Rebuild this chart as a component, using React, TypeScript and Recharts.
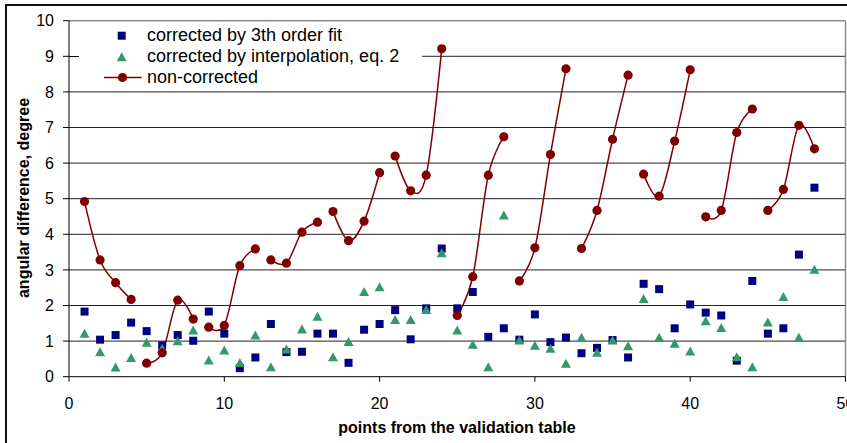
import React from "react"
import { ComposedChart, Line, Scatter, XAxis, YAxis, ReferenceLine } from "recharts"

// point numbers from the validation table
const pointNo = [
  1, 2, 3, 4, 5, 6, 7, 8, 9, 10, 11, 12, 13, 14, 15, 16, 17, 18, 19, 20, 21, 22, 23, 24,
  25, 26, 27, 28, 29, 30, 31, 32, 33, 34, 35, 36, 37, 38, 39, 40, 41, 42, 43, 44, 45, 46, 47, 48,
]

// corrected by 3th order fit
const fitValues = [
  1.83, 1.04, 1.17, 1.52, 1.28, 0.88, 1.17, 1.01, 1.83, 1.21, 0.24, 0.54,
  1.48, 0.69, 0.7, 1.21, 1.21, 0.39, 1.32, 1.48, 1.87, 1.05, 1.92, 3.6,
  1.92, 2.38, 1.12, 1.36, 1.04, 1.75, 0.97, 1.1, 0.66, 0.81, 1.03, 0.54,
  2.61, 2.46, 1.36, 2.03, 1.8, 1.72, 0.45, 2.69, 1.21, 1.36, 3.43, 5.31,
]

// corrected by interpolation, eq. 2
const interpValues = [
  1.22, 0.7, 0.27, 0.54, 0.97, 0.8, 1.01, 1.31, 0.47, 0.75, 0.4, 1.17,
  0.28, 0.78, 1.34, 1.7, 0.56, 0.99, 2.39, 2.53, 1.61, 1.61, 1.89, 3.48,
  1.31, 0.91, 0.28, 4.54, 1.03, 0.88, 0.8, 0.38, 1.11, 0.69, 1.03, 0.87,
  2.2, 1.11, 0.94, 0.72, 1.57, 1.38, 0.56, 0.28, 1.54, 2.25, 1.11, 3.02,
]

// non-corrected
const rawValues = [
  4.92, 3.28, 2.64, 2.17, 0.38, 0.67, 2.15, 1.62, 1.39, 1.44, 3.12, 3.59,
  3.28, 3.19, 4.06, 4.34, 4.64, 3.82, 4.37, 5.73, 6.2, 5.22, 5.66, 9.21,
  1.72, 2.81, 5.66, 6.74, 2.69, 3.62, 6.24, 8.65, 3.6, 4.67, 6.67, 8.47,
  5.69, 5.07, 6.62, 8.62, 4.49, 4.67, 6.86, 7.52, 4.67, 5.26, 7.06, 6.4,
]

// the non-corrected line is broken after these points
const segmentEnds = [4, 8, 12, 16, 20, 24, 28, 32, 36, 40, 44]

const xTicks = [0, 10, 20, 30, 40, 50]
const yTicks = [0, 1, 2, 3, 4, 5, 6, 7, 8, 9, 10]
const gridValues = [1, 2, 3, 4, 5, 6, 7, 8, 9]

const legendItems = [
  { name: "corrected by 3th order fit", kind: "fit" },
  { name: "corrected by interpolation, eq. 2", kind: "interp" },
  { name: "non-corrected", kind: "raw" },
]

const colors = {
  fit: "#000080",
  interp: "#339966",
  raw: "#800000",
}

const fitData = pointNo.map((x, i) => ({ x, v: fitValues[i] }))
const interpData = pointNo.map((x, i) => ({ x, v: interpValues[i] }))
const rawData: { x: number; v: number | null }[] = []
pointNo.forEach((x, i) => {
  rawData.push({ x, v: rawValues[i] })
  if (segmentEnds.includes(x)) rawData.push({ x: x + 0.5, v: null })
})

// smoothed line, like the spreadsheet's "smoothed line" option (cardinal spline)
const smoothCurve = (context: any) => {
  const k = 1 / 6
  let x0 = NaN, y0 = NaN, x1 = NaN, y1 = NaN, x2 = NaN, y2 = NaN
  let pt = 0
  let line = NaN
  const seg = (x: number, y: number) =>
    context.bezierCurveTo(x1 + k * (x2 - x0), y1 + k * (y2 - y0), x2 + k * (x1 - x), y2 + k * (y1 - y), x2, y2)
  return {
    areaStart() { line = 0 },
    areaEnd() { line = NaN },
    lineStart() { x0 = x1 = x2 = y0 = y1 = y2 = NaN; pt = 0 },
    lineEnd() {
      if (pt === 2) context.lineTo(x2, y2)
      else if (pt === 3) seg(x1, y1)
      if (line || (line !== 0 && pt === 1)) context.closePath()
      line = 1 - line
    },
    point(x: number, y: number) {
      switch (pt) {
        case 0: pt = 1; if (line) context.lineTo(x, y); else context.moveTo(x, y); break
        case 1: pt = 2; x1 = x; y1 = y; break
        case 2: pt = 3; seg(x, y); break
        default: seg(x, y)
      }
      x0 = x1; x1 = x2; x2 = x
      y0 = y1; y1 = y2; y2 = y
    },
  }
}

const Square = (props: any) => {
  const { cx, cy } = props
  if (cx == null || cy == null) return null
  return <rect x={cx - 4} y={cy - 4} width={8} height={8} fill={colors.fit} />
}

const Triangle = (props: any) => {
  const { cx, cy } = props
  if (cx == null || cy == null) return null
  return <polygon points={`${cx},${cy - 4.5} ${cx - 5},${cy + 4.5} ${cx + 5},${cy + 4.5}`} fill={colors.interp} />
}

const Dot = (props: any) => {
  const { cx, cy, index } = props
  if (cx == null || cy == null) return <g key={index} />
  return <circle key={index} cx={cx} cy={cy} r={4.6} fill={colors.raw} />
}

const font = "'Liberation Sans', Arial, sans-serif"
const tickStyle = { fill: "#000", fontSize: 16, fontFamily: font }

export default function App() {
  return (
    <div style={{ position: "absolute", left: 0, top: 0, width: 847, height: 443, overflow: "hidden", background: "#fff", fontFamily: font }}>
      <div style={{ position: "absolute", left: 5, top: 4, width: 900, height: 500, border: "2px solid #111" }} />
      <div style={{ position: "absolute", left: 0, top: 0 }}>
        <ComposedChart width={847} height={443} margin={{ top: 20.7, right: 1.5, bottom: 0, left: 9 }}>
          <XAxis
            dataKey="x"
            type="number"
            domain={[0, 50]}
            ticks={xTicks}
            interval={0}
            allowDataOverflow
            height={66.3}
            tickSize={5}
            tickMargin={16}
            tick={tickStyle}
            axisLine={{ stroke: "#000" }}
            tickLine={{ stroke: "#000" }}
          />
          <YAxis
            type="number"
            domain={[0, 10]}
            ticks={yTicks}
            interval={0}
            width={60}
            tickSize={6}
            tickMargin={9}
            tick={tickStyle}
            axisLine={{ stroke: "#000" }}
            tickLine={{ stroke: "#000" }}
          />
          {gridValues.map((v) => (
            <ReferenceLine key={v} y={v} stroke="#222" strokeWidth={1} />
          ))}
          <ReferenceLine y={10} stroke="#8c8c8c" strokeWidth={1.5} />
          <ReferenceLine x={50} stroke="#8c8c8c" strokeWidth={1.5} />
          <Scatter data={fitData} dataKey="v" shape={Square} isAnimationActive={false} />
          <Scatter data={interpData} dataKey="v" shape={Triangle} isAnimationActive={false} />
          <Line
            data={rawData}
            dataKey="v"
            type={smoothCurve as any}
            stroke={colors.raw}
            strokeWidth={1.5}
            dot={Dot}
            activeDot={false}
            connectNulls={false}
            isAnimationActive={false}
          />
        </ComposedChart>
      </div>
      <svg width={847} height={443} style={{ position: "absolute", left: 0, top: 0, pointerEvents: "none" }}>
        <text
          x={23}
          y={198}
          transform="rotate(-90 23 198)"
          textAnchor="middle"
          dominantBaseline="central"
          fontSize={16}
          fontWeight="bold"
          fontFamily={font}
        >
          angular difference, degree
        </text>
        <text x={457} y={433} textAnchor="middle" fontSize={16} fontWeight="bold" fontFamily={font}>
          points from the validation table
        </text>
      </svg>
      <div
        style={{
          position: "absolute",
          left: 70,
          top: 22,
          width: 352,
          height: 67.5,
          background: "#fff",
          fontSize: 18,
          color: "#000",
        }}
      >
        <div style={{ position: "absolute", left: -1, top: 34.2, width: 10, height: 1, background: "#000" }} />
        {legendItems.map((item, i) => (
          <div key={item.kind} style={{ position: "absolute", left: 0, top: 3 + i * 20.8, height: 21, width: 352 }}>
            <svg width={75} height={21} style={{ position: "absolute", left: 0, top: 0 }}>
              {item.kind === "fit" && <rect x={47.7} y={6.7} width={8} height={8} fill={colors.fit} />}
              {item.kind === "interp" && <polygon points="51.7,6.2 46.7,15.2 56.7,15.2" fill={colors.interp} />}
              {item.kind === "raw" && (
                <>
                  <line x1={34} x2={71.7} y1={10.5} y2={10.5} stroke={colors.raw} strokeWidth={1.5} />
                  <circle cx={52.5} cy={10.5} r={4.6} fill={colors.raw} />
                </>
              )}
            </svg>
            <span style={{ position: "absolute", left: 77, top: 0, lineHeight: "21px", whiteSpace: "nowrap" }}>{item.name}</span>
          </div>
        ))}
      </div>
    </div>
  )
}
